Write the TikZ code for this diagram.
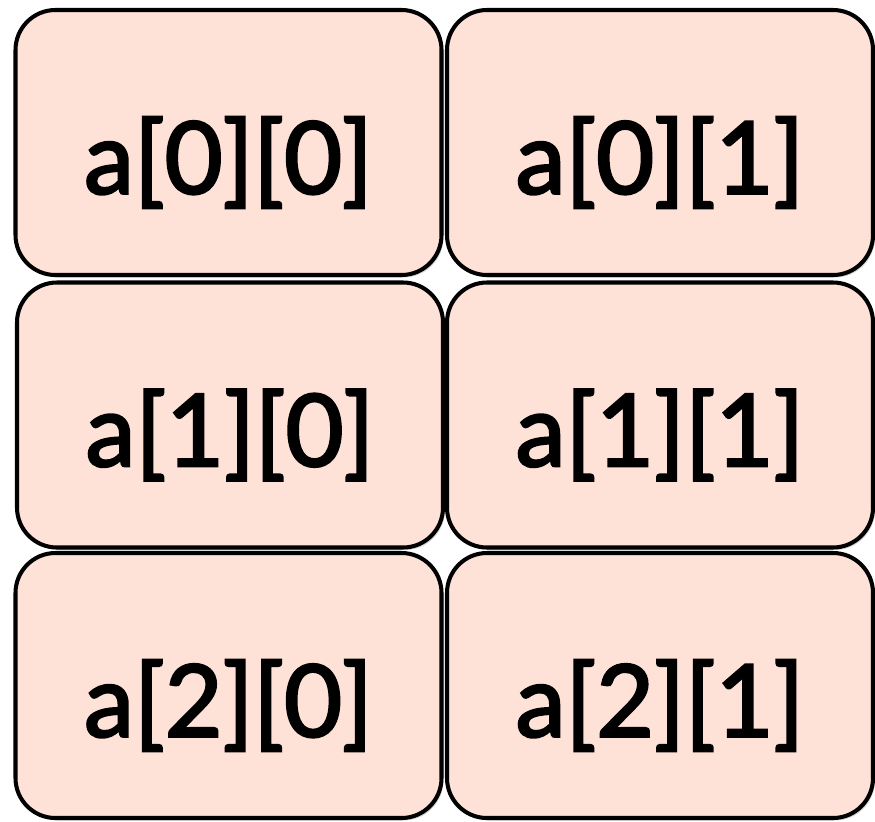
\documentclass[tikz,border=0pt]{standalone}
\usepackage{fontspec}
\setmainfont{Lato}
\newfontfamily\cellfont[FakeBold=2.5]{Lato}
\usepackage{tikz}
\usetikzlibrary{shapes, positioning, shadows}
\definecolor{CellPink}{RGB}{254, 225, 215}
\newcommand{\celltext}[1]{\raisebox{-0.4cm}[\height][\depth]{#1}}
\tikzset{
    cell/.style={rectangle, draw, line width=2.3pt, fill=CellPink, rounded corners=0.8cm,
        minimum width=8.52cm, minimum height=5.3cm, align=center,
        drop shadow={shadow xshift=0.04cm, shadow yshift=-0.05cm, opacity=0.35},
        font=\fontsize{57}{62}\cellfont}
}
\begin{document}
\begin{tikzpicture}
            \useasboundingbox (0, 0) rectangle (17.5, -16.42);
            \node[cell] (a00) at (4.57, -2.85) {\celltext{a[0][0]}};
            \node[cell] (a01) at (13.2, -2.85) {\celltext{a[0][1]}};
            \node[cell] (a10) at (4.6, -8.3) {\celltext{a[1][0]}};
            \node[cell] (a11) at (13.2, -8.3) {\celltext{a[1][1]}};
            \node[cell] (a20) at (4.57, -13.71) {\celltext{a[2][0]}};
            \node[cell] (a21) at (13.2, -13.71) {\celltext{a[2][1]}};
            \end{tikzpicture}
\end{document}
